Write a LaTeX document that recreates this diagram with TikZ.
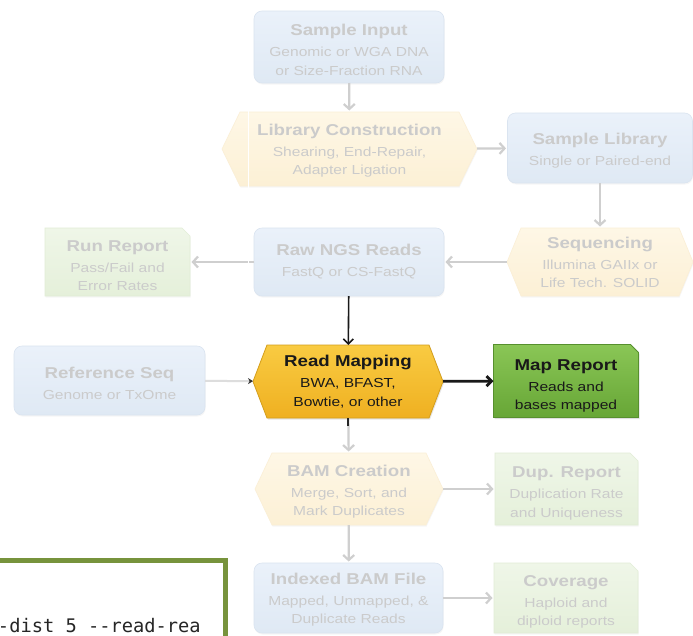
\documentclass[tikz,border=0pt]{standalone}
\usepackage{fontspec}
\newfontfamily\labfont[FakeStretch=1.19]{Liberation Sans}
\newfontfamily\codefont{DejaVu Sans Mono}
\usetikzlibrary{arrows.meta,shadows}

\definecolor{bluetop}{HTML}{EAF1FA}
\definecolor{bluebot}{HTML}{DFE9F4}
\definecolor{blueline}{HTML}{DAE4F0}
\definecolor{yeltop}{HTML}{FEF7E6}
\definecolor{yelbot}{HTML}{FCF0D5}
\definecolor{yelline}{HTML}{FBEFD6}
\definecolor{grntop}{HTML}{EFF6E8}
\definecolor{grnbot}{HTML}{E5F0DA}
\definecolor{grnline}{HTML}{E2EDD6}
\definecolor{fadetext}{HTML}{CBCBCB}
\definecolor{arrowgrey}{HTML}{CFCFCF}
\definecolor{maptop}{HTML}{F9CB42}
\definecolor{mapbot}{HTML}{EFB021}
\definecolor{mapline}{HTML}{D49E1C}
\definecolor{reptop}{HTML}{8AC656}
\definecolor{repbot}{HTML}{67A636}
\definecolor{repline}{HTML}{57902E}
\definecolor{olivebox}{HTML}{77933C}

% title line plus detail lines of a stage
\newcommand\steptext[2]{{\bfseries\fontsize{15.7}{18.5}\selectfont #1}\\[2.5pt]#2}
% outlines built from the anchors of a sized, invisible node
\newcommand\hexoutline[2]{(#1.west) -- ([xshift=#2]#1.north west) -- ([xshift=-#2]#1.north east) -- (#1.east) -- ([xshift=-#2]#1.south east) -- ([xshift=#2]#1.south west) -- cycle}
\newcommand\noteoutline[2]{(#1.south west) -- (#1.north west) -- ([xshift=-#2]#1.north east) -- ([yshift=-#2]#1.north east) -- (#1.south east) -- cycle}

\tikzset{
  frame/.style={inner sep=0pt, outer sep=0pt},
  softshadow/.style={drop shadow={shadow xshift=0.6pt, shadow yshift=-1.5pt, opacity=0.07}},
  bluebox/.style={frame, draw=blueline, line width=0.6pt, top color=bluetop, bottom color=bluebot,
    rounded corners=8pt, softshadow},
  yellowfill/.style={draw=yelline, line width=0.6pt, top color=yeltop, bottom color=yelbot, softshadow},
  greenfill/.style={draw=grnline, line width=0.6pt, top color=grntop, bottom color=grnbot, softshadow},
  fadelabel/.style={frame, align=center, text=fadetext, font=\labfont\fontsize{13.1}{18.5}\selectfont},
  hotlabel/.style={frame, align=center, text=black!90, font=\labfont\fontsize{13.1}{18.5}\selectfont},
  greyarrow/.style={draw=arrowgrey, line width=2.2pt, shorten >=1.5pt,
    -{Straight Barb[length=5pt,width=11pt]}},
  blackarrow/.style={draw=black!90, line width=#1, -{Straight Barb[length=5pt,width=10pt]}},
}

\begin{document}
\begin{tikzpicture}[x=1pt,y=-1pt]
\useasboundingbox (0,0) rectangle (693,635);
\clip (0,0) rectangle (693,635);
\fill[white] (0,0) rectangle (693,635);

% ---- stage outlines ----
\node[bluebox, minimum width=190pt, minimum height=72pt] (in) at (349,47) {};
\node[frame, minimum width=255pt, minimum height=74pt] (lib) at (349.5,149) {};
\path[yellowfill] \hexoutline{lib}{18pt};
\node[bluebox, minimum width=185pt, minimum height=70pt] (slib) at (600,148) {};
\node[frame, minimum width=186pt, minimum height=68pt] (seq) at (600,262) {};
\path[yellowfill] \hexoutline{seq}{14pt};
\node[bluebox, minimum width=190pt, minimum height=68pt] (raw) at (349,262) {};
\node[frame, minimum width=145pt, minimum height=68pt] (run) at (117.5,262) {};
\path[greenfill] \noteoutline{run}{8pt};
\node[bluebox, minimum width=191pt, minimum height=69pt] (ref) at (109.5,380.5) {};
\node[frame, minimum width=190pt, minimum height=73pt] (map) at (348,381.5) {};
\path[draw=mapline, line width=0.8pt, top color=maptop, bottom color=mapbot,
  drop shadow={shadow xshift=1pt, shadow yshift=-1.5pt, opacity=0.2}] \hexoutline{map}{14pt};
\node[frame, minimum width=145pt, minimum height=73pt] (mrep) at (566,381) {};
\path[draw=repline, line width=0.8pt, top color=reptop, bottom color=repbot,
  drop shadow={shadow xshift=1.2pt, shadow yshift=-1.5pt, opacity=0.25}] \noteoutline{mrep}{8pt};
\node[frame, minimum width=188pt, minimum height=72pt] (bam) at (349,489) {};
\path[yellowfill] \hexoutline{bam}{17pt};
\node[frame, minimum width=143pt, minimum height=72pt] (dup) at (566.5,489) {};
\path[greenfill] \noteoutline{dup}{8pt};
\node[bluebox, minimum width=189pt, minimum height=70pt] (idx) at (348.5,598) {};
\node[frame, minimum width=144pt, minimum height=70pt] (cov) at (566,598) {};
\path[greenfill] \noteoutline{cov}{8pt};

% ---- stage labels ----
\node[fadelabel] (in-t) at ([yshift=-3pt]in.center) {\steptext{Sample Input}{Genomic or WGA DNA\\or Size-Fraction RNA}};
\node[fadelabel] (lib-t) at ([yshift=-1.5pt]lib.center) {\steptext{Library Construction}{Shearing, End-Repair,\\Adapter Ligation}};
\node[fadelabel] (slib-t) at ([yshift=-3pt]slib.center) {\steptext{Sample Library}{Single or Paired-end}};
\node[fadelabel] (seq-t) at ([yshift=-0.5pt]seq.center) {\steptext{Sequencing}{Illumina GAIIx or\\Life Tech. SOLID}};
\node[fadelabel] (raw-t) at ([yshift=0.5pt]raw.center) {\steptext{Raw NGS Reads}{FastQ or CS-FastQ}};
\node[fadelabel] (run-t) at ([yshift=-3.5pt]run.center) {\steptext{Run Report}{Pass/Fail and\\Error Rates}};
\node[fadelabel] (ref-t) at ([yshift=-3pt]ref.center) {\steptext{Reference Seq}{Genome or TxOme}};
\node[hotlabel] (map-t) at (map.center) {\steptext{Read Mapping}{BWA, BFAST,\\Bowtie, or other}};
\node[hotlabel] (mrep-t) at ([yshift=-5pt]mrep.center) {\steptext{Map Report}{Reads and\\bases mapped}};
\node[fadelabel] (bam-t) at ([yshift=-2.5pt]bam.center) {\steptext{BAM Creation}{Merge, Sort, and\\Mark Duplicates}};
\node[fadelabel] (dup-t) at ([yshift=-4.5pt]dup.center) {\steptext{Dup. Report}{Duplication Rate\\and Uniqueness}};
\node[fadelabel] (idx-t) at ([yshift=-1.5pt]idx.center) {\steptext{Indexed BAM File}{Mapped, Unmapped, \&\\Duplicate Reads}};
\node[fadelabel] (cov-t) at ([yshift=-4pt]cov.center) {\steptext{Coverage}{Haploid and\\diploid reports}};

% ---- connectors ----
\draw[greyarrow] (in) -- (lib);
\draw[greyarrow] (lib) -- (slib);
\draw[greyarrow] (slib) -- (seq);
\draw[greyarrow] (seq) -- (raw);
\draw[greyarrow] (raw) -- (run);
\draw[draw=arrowgrey!70, line width=2pt, -{Stealth[length=5pt,width=6pt,color=black!80]}] (ref) -- (map);
\draw[blackarrow=1.6pt] (raw) -- (map);
\draw[blackarrow=2.8pt] (map) -- (mrep);
\draw[greyarrow] (map) -- (bam);
\coordinate (mapstub) at ([yshift=-8pt]map.south);
\draw[black!85, line width=1.6pt] (map.south) -- (mapstub);
\draw[greyarrow] (bam) -- (dup);
\draw[greyarrow] (bam) -- (idx);
\draw[greyarrow] (idx) -- (cov);

% thin white seam crossing the upper left stages
\draw[white, line width=1.2pt] (248.5,108) -- (248.5,300);

% ---- command box in the lower left ----
\draw[olivebox, line width=4.5pt, fill=white] (-10,560.5) rectangle (225.5,660);
\node[frame, anchor=base west, text=black!85, font=\codefont\fontsize{18.7}{22}\selectfont] (cmd) at (-2,632)
  {-dist 5 \mbox{-}\mbox{-}read-rea};
\end{tikzpicture}
\end{document}
